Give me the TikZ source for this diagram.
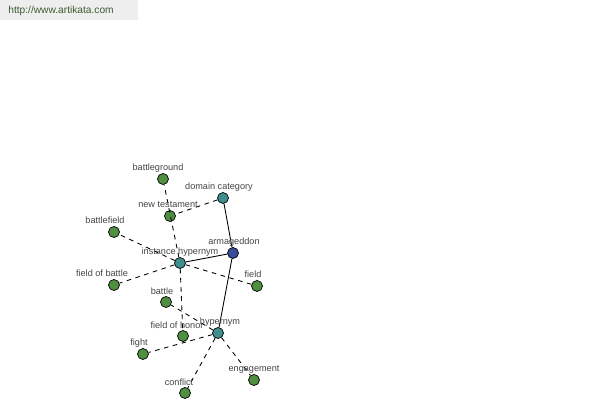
\documentclass[tikz,border=0pt]{standalone}
\usepackage{fontspec}
\setmainfont{Liberation Sans}
\definecolor{hubblue}{HTML}{3C4C9C}
\definecolor{relteal}{HTML}{3F8F8F}
\definecolor{wordgreen}{HTML}{4F8F3F}
\definecolor{labgray}{HTML}{444444}
\definecolor{urlgreen}{HTML}{3D5C2E}
\tikzset{
  dot/.style={circle,draw=black,line width=0.4pt,inner sep=0pt,minimum size=0.22cm},
  hub/.style={dot,fill=hubblue},
  rel/.style={dot,fill=relteal},
  word/.style={dot,fill=wordgreen},
  lab/.style={text=labgray,font=\fontsize{5.2}{6}\selectfont,inner sep=0pt},
  link/.style={line width=0.5pt},
  weak/.style={line width=0.5pt,dash pattern=on 2.6pt off 2.6pt}
}
\begin{document}
\begin{tikzpicture}
\useasboundingbox (0,0) rectangle (12,-8);
\fill[gray!13] (0,0) rectangle (2.76,-0.4);
\node[text=urlgreen,font=\fontsize{5.8}{7}\selectfont,anchor=west,inner sep=0pt] (url) at (0.16,-0.22) {http://www.artikata.com};

\node[hub] (arm) at (4.66,-5.06) {};
\node[rel] (dom) at (4.46,-3.96) {};
\node[rel] (inst) at (3.60,-5.26) {};
\node[rel] (hyp) at (4.36,-6.66) {};
\node[word] (bground) at (3.26,-3.58) {};
\node[word] (newt) at (3.40,-4.32) {};
\node[word] (bfield) at (2.28,-4.64) {};
\node[word] (fbattle) at (2.28,-5.70) {};
\node[word] (field) at (5.14,-5.72) {};
\node[word] (battle) at (3.32,-6.04) {};
\node[word] (fhonor) at (3.66,-6.72) {};
\node[word] (fight) at (2.86,-7.08) {};
\node[word] (engage) at (5.08,-7.60) {};
\node[word] (conflict) at (3.70,-7.86) {};

% relations
\draw[link] (arm) -- (dom);
\draw[link] (arm) -- (inst);
\draw[link] (arm) -- (hyp);
\draw[weak] (dom) -- (newt);
\draw[weak] (inst) -- (bground);
\draw[weak] (inst) -- (bfield);
\draw[weak] (inst) -- (fbattle);
\draw[weak] (inst) -- (field);
\draw[weak] (inst) -- (fhonor);
\draw[weak] (hyp) -- (battle);
\draw[weak] (hyp) -- (fight);
\draw[weak] (hyp) -- (conflict);
\draw[weak] (hyp) -- (engage);

% labels
\node[lab] at (4.68,-4.84) {armageddon};
\node[lab] at (4.38,-3.74) {domain category};
\node[lab] at (3.60,-5.04) {instance hypernym};
\node[lab] at (4.40,-6.44) {hypernym};
\node[lab] at (3.16,-3.36) {battleground};
\node[lab] at (3.36,-4.10) {new testament};
\node[lab] at (2.10,-4.40) {battlefield};
\node[lab] at (2.04,-5.46) {field of battle};
\node[lab] at (5.06,-5.48) {field};
\node[lab] at (3.24,-5.82) {battle};
\node[lab] at (3.54,-6.50) {field of honor};
\node[lab] at (2.78,-6.86) {fight};
\node[lab] at (5.08,-7.38) {engagement};
\node[lab] at (3.58,-7.64) {conflict};
\end{tikzpicture}
\end{document}
